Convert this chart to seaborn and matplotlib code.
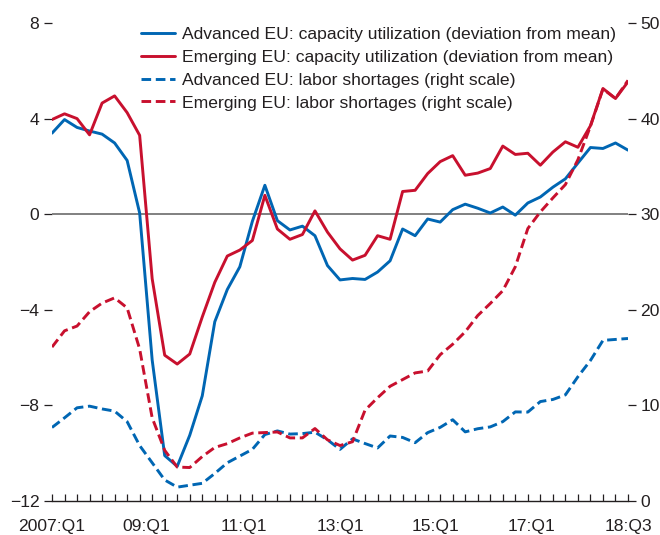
import numpy as np
import pandas as pd
import matplotlib
matplotlib.use("Agg")
import matplotlib.pyplot as plt
import seaborn as sns
from matplotlib.ticker import FixedLocator, NullFormatter
from matplotlib import font_manager

# ---------------- data ----------------
quarters = [f"{y}:Q{q}" for y in range(2007, 2019) for q in range(1, 5)][:47]

adv_cap = [3.39, 3.96, 3.63, 3.48, 3.35, 2.98, 2.25, 0.05, -6.1, -10.1,
           -10.55, -9.25, -7.6, -4.5, -3.15, -2.2, -0.3, 1.21, -0.27, -0.66,
           -0.5, -0.9, -2.15, -2.75, -2.69, -2.73, -2.42, -1.95, -0.62, -0.9,
           -0.2, -0.33, 0.19, 0.42, 0.25, 0.05, 0.3, -0.04, 0.47, 0.72,
           1.13, 1.48, 2.14, 2.79, 2.75, 2.98, 2.68]
emg_cap = [3.96, 4.2, 4.0, 3.32, 4.65, 4.95, 4.25, 3.3, -2.7, -5.9,
           -6.27, -5.85, -4.3, -2.85, -1.75, -1.5, -1.1, 0.79, -0.62, -1.05,
           -0.85, 0.14, -0.75, -1.45, -1.92, -1.72, -0.9, -1.05, 0.95, 1.0,
           1.7, 2.2, 2.45, 1.63, 1.72, 1.91, 2.85, 2.5, 2.55, 2.05,
           2.6, 3.03, 2.8, 3.7, 5.26, 4.84, 5.54]
adv_lab = [7.69, 8.7, 9.75, 9.92, 9.63, 9.4, 8.3, 5.8, 4.0, 2.2,
           1.45, 1.65, 1.85, 2.88, 4.0, 4.7, 5.4, 6.95, 7.33, 7.0,
           7.05, 7.2, 6.4, 5.4, 6.5, 6.01, 5.55, 6.8, 6.65, 6.1,
           7.15, 7.7, 8.5, 7.23, 7.56, 7.75, 8.3, 9.32, 9.3, 10.4,
           10.62, 11.1, 13.0, 14.7, 16.8, 16.9, 17.0]
emg_lab = [16.1, 17.8, 18.3, 19.8, 20.7, 21.25, 20.2, 15.9, 8.7, 5.3,
           3.55, 3.5, 4.65, 5.6, 6.0, 6.6, 7.1, 7.16, 7.22, 6.6,
           6.6, 7.58, 6.4, 5.8, 6.2, 9.5, 10.8, 12.0, 12.7, 13.4,
           13.6, 15.3, 16.4, 17.7, 19.4, 20.66, 22.0, 24.5, 28.5, 30.24,
           31.7, 33.1, 35.7, 39.2, 43.1, 42.1, 44.0]

tick_labels = ["2007:Q1", "09:Q1", "11:Q1", "13:Q1", "15:Q1", "17:Q1", "18:Q3"]
series_labels = ["Advanced EU: capacity utilization (deviation from mean)",
                 "Emerging EU: capacity utilization (deviation from mean)",
                 "Advanced EU: labor shortages (right scale)",
                 "Emerging EU: labor shortages (right scale)"]

# ---------------- style ----------------
sns.set_theme(style="white")
installed = {f.name for f in font_manager.fontManager.ttflist}
if "Liberation Sans Narrow" in installed:
    plt.rcParams["font.family"] = ["Liberation Sans Narrow", "DejaVu Sans"]
    FS = 13.5
else:
    plt.rcParams["font.family"] = ["Liberation Sans", "DejaVu Sans"]
    FS = 12.6
TXT = "#231f20"
BLUE = "#0066b3"
RED = "#c8102e"
DASH = (0, (3.3, 1.6))
LW = 2.1

df = pd.DataFrame({"t": np.arange(len(quarters)), "quarter": quarters,
                   "adv_cap": adv_cap, "emg_cap": emg_cap,
                   "adv_lab": adv_lab, "emg_lab": emg_lab})

W, H = 660, 535
fig = plt.figure(figsize=(W / 100, H / 100), dpi=100)
x0, x1, ytop, ybot = 52, 628, 23, 501
ax = fig.add_axes([x0 / W, 1 - ybot / H, (x1 - x0) / W, (ybot - ytop) / H])
ax2 = ax.twinx()

ax.axhline(0, color="#808080", lw=1.4, zorder=1)
sns.lineplot(data=df, x="t", y="adv_cap", ax=ax, color=BLUE, lw=LW, zorder=3)
sns.lineplot(data=df, x="t", y="emg_cap", ax=ax, color=RED, lw=LW, zorder=3)
sns.lineplot(data=df, x="t", y="adv_lab", ax=ax2, color=BLUE, lw=LW, linestyle=DASH)
sns.lineplot(data=df, x="t", y="emg_lab", ax=ax2, color=RED, lw=LW, linestyle=DASH)

n = len(quarters)
ax.set_xlim(0, n - 1)
ax.set_ylim(-12, 8)
ax2.set_ylim(0, 50)
for a in (ax, ax2):
    a.set_xlabel("")
    a.set_ylabel("")
    for s in a.spines.values():
        s.set_visible(False)
ax.spines["bottom"].set_visible(True)
ax.spines["bottom"].set_color(TXT)
ax.spines["bottom"].set_linewidth(1.0)

# x ticks: quarterly minor marks, labels (no marks) at major positions
label_pos = [0, 7.51, 15.34, 23.0, 30.59, 38.26, n - 1]
ax.xaxis.remove_overlapping_locs = False
ax.xaxis.set_major_locator(FixedLocator(label_pos))
ax.set_xticklabels(tick_labels)
ax.xaxis.set_minor_locator(FixedLocator(np.arange(n)))
ax.xaxis.set_minor_formatter(NullFormatter())
ax.tick_params(axis="x", which="major", length=0, pad=13, labelsize=FS, labelcolor=TXT)
ax.tick_params(axis="x", which="minor", direction="in", length=5, width=0.9,
               color=TXT, bottom=True)

ax.set_yticks(np.arange(-12, 9, 4))
ax.tick_params(axis="y", which="major", direction="out", length=6, width=0.9,
               color=TXT, left=True, pad=3, labelsize=FS, labelcolor=TXT)
ax2.set_yticks(np.arange(0, 51, 10))
ax2.tick_params(axis="y", which="major", direction="out", length=6, width=0.9,
                color=TXT, right=True, pad=3, labelsize=FS, labelcolor=TXT)

handles = [plt.Line2D([], [], color=BLUE, lw=LW),
           plt.Line2D([], [], color=RED, lw=LW),
           plt.Line2D([], [], color=BLUE, lw=LW, linestyle=DASH),
           plt.Line2D([], [], color=RED, lw=LW, linestyle=DASH)]
leg = ax2.legend(handles, series_labels, loc="upper left",
                 bbox_to_anchor=(141 / W, 1 - 27 / H), bbox_transform=fig.transFigure,
                 frameon=False, fontsize=FS, handlelength=1.95, handletextpad=0.4,
                 labelspacing=0.43, borderpad=0, borderaxespad=0)
for t in leg.get_texts():
    t.set_color(TXT)

fig.savefig("out.png", dpi=100)
